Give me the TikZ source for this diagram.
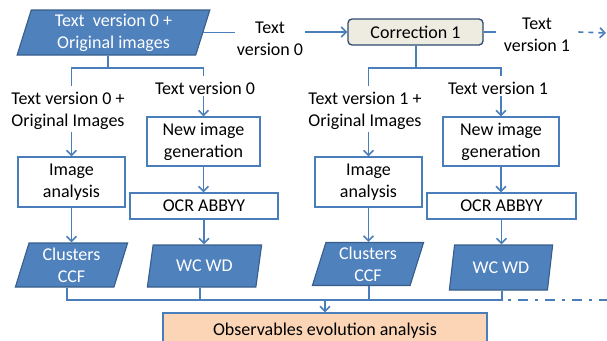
\documentclass[tikz,border=0pt]{standalone}
\usepackage{fontspec}
\setmainfont{Carlito}
\usetikzlibrary{arrows.meta,shapes.geometric}
\definecolor{lnblue}{HTML}{4A7EBB}
\definecolor{fillblue}{HTML}{4F81BD}
\definecolor{edgeblue}{HTML}{385D8A}
\definecolor{beige}{HTML}{EEECE1}
\definecolor{peach}{HTML}{FBD5B5}
\tikzset{
 every node/.style={font=\fontsize{18}{22}\selectfont, align=center, inner sep=2pt},
 procbox/.style={draw=lnblue, line width=1.1pt, fill=white},
 datapara/.style={trapezium, trapezium left angle=75, trapezium right angle=105,
   trapezium stretches=true, fill=fillblue, draw=edgeblue, line width=1.1pt,
   text=white, inner sep=0pt},
 corrbox/.style={draw=edgeblue!80!black, line width=1.3pt, fill=beige, rounded corners=4pt},
 obsbox/.style={draw=lnblue, line width=1.1pt, fill=peach},
 conn/.style={draw=lnblue, line width=1.6pt},
 arr/.style={conn, -{Straight Barb[length=5pt,width=10pt]}}
}
\begin{document}
\begin{tikzpicture}[x=1pt,y=-1pt]
\useasboundingbox (0,0) rectangle (607,340);
\clip (0,0) rectangle (607,340);
% top row
\node[datapara, minimum width=193pt, minimum height=45pt] (top) at (113.5,32.5) {Text\ \ version 0 +\\Original images};
\node (lab0) at (270,39) {Text\\version 0};
\node[corrbox, minimum width=135pt, minimum height=26pt] (corr) at (415.5,32) {Correction 1};
\node (lab1) at (537,35) {Text\\version 1};
\coordinate (dashend) at (606,33);
% left group
\node (lA0) at (68,111) {Text version 0 +\\Original Images};
\node (lB0) at (205,88) {Text version 0};
\node[procbox, minimum width=107pt, minimum height=50pt] (ia0) at (71.5,182) {Image\\analysis};
\node[procbox, minimum width=113pt, minimum height=49pt] (ng0) at (203.5,141.5) {New image\\generation};
\node[procbox, minimum width=148pt, minimum height=26pt] (ocr0) at (204,206) {OCR ABBYY};
\node[datapara, minimum width=113pt, minimum height=44pt] (cl0) at (71.5,265) {Clusters\\CCF};
\node[datapara, minimum width=115pt, minimum height=42pt] (wc0) at (204.5,266) {WC WD};
% right group
\node (lA1) at (365,111) {Text version 1 +\\Original Images};
\node (lB1) at (498,88) {Text version 1};
\node[procbox, minimum width=107pt, minimum height=50pt] (ia1) at (368.5,182) {Image\\analysis};
\node[procbox, minimum width=116pt, minimum height=49pt] (ng1) at (501,141.5) {New image\\generation};
\node[procbox, minimum width=149pt, minimum height=26pt] (ocr1) at (501.5,206) {OCR ABBYY};
\node[datapara, minimum width=112pt, minimum height=43pt] (cl1) at (368,264) {Clusters\\CCF};
\node[datapara, minimum width=104pt, minimum height=45pt] (wc1) at (501,267.5) {WC WD};
% bottom
\node[obsbox, minimum width=324pt, minimum height=36pt] (obs) at (325,331) {Observables evolution analysis};
% top connectors
\draw[conn] (top.east) -- (lab0.west |- top.east);
\draw[arr] (lab0.east |- corr.west) -- (corr.west);
\draw[conn] (corr.east) -- ([xshift=-6pt]lab1.west |- corr.east);
\draw[arr, dash pattern=on 5pt off 5pt] ([xshift=6pt]lab1.east |- corr.east) -- (dashend);
% branches
\coordinate (j0) at (108,68);
\coordinate (j1) at (416,68);
\draw[conn] (j0 |- top.south) -- (j0);
\draw[conn] ([yshift=4pt]lA0.north -| ia0.north) |- (j0) -| ([yshift=4pt]lB0.north -| ng0.north);
\draw[conn] (j1 |- corr.south) -- (j1);
\draw[conn] ([yshift=4pt]lA1.north -| ia1.north) |- (j1) -| ([yshift=4pt]lB1.north -| ng1.north);
% columns
\draw[arr] (lA0.south -| ia0.north) -- (ia0.north);
\draw[arr] (lB0.south -| ng0.north) -- (ng0.north);
\draw[arr] (ng0.south) -- (ocr0.north -| ng0.south);
\draw[arr] (ia0.south) -- (ia0.south |- cl0.north);
\draw[arr] (ocr0.south) -- (ocr0.south |- wc0.north);
\draw[arr] (lA1.south -| ia1.north) -- (ia1.north);
\draw[arr] (lB1.south -| ng1.north) -- (ng1.north);
\draw[arr] (ng1.south) -- (ocr1.north -| ng1.south);
\draw[arr] (ia1.south) -- (ia1.south |- cl1.north);
\draw[arr] (ocr1.south) -- (ocr1.south |- wc1.north);
% bottom collector
\coordinate (hb) at (67,300);
\coordinate (he) at (502,300);
\coordinate (hend) at (607,300);
\draw[conn] ([xshift=-4.5pt]cl0.south) -- ([xshift=-4.5pt]cl0.south |- hb) -- (he) -- (he |- wc1.south);
\draw[conn] ([xshift=-4.5pt]wc0.south) -- ([xshift=-4.5pt]wc0.south |- hb);
\draw[conn] ([xshift=1pt]cl1.south) -- ([xshift=1pt]cl1.south |- hb);
\draw[conn, dash pattern=on 3pt off 7pt on 10pt off 7pt] ([xshift=6pt]he) -- (hend);
\draw[arr] (obs.north |- hb) -- (obs.north);
\end{tikzpicture}
\end{document}
